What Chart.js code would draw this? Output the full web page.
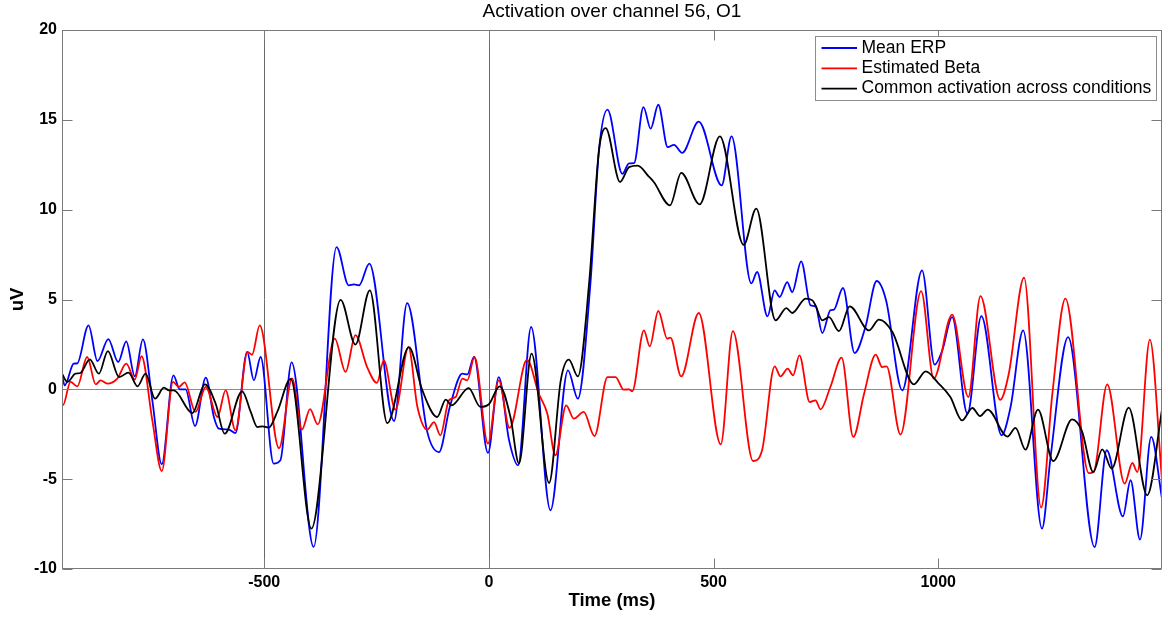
<!DOCTYPE html>
<html><head><meta charset="utf-8">
<script src="https://cdn.jsdelivr.net/npm/chart.js@4.4.1/dist/chart.umd.min.js"></script>
<style>html,body{margin:0;padding:0;background:#fff;}canvas{display:block;}</style>
</head><body>
<canvas id="c" width="1168" height="617"></canvas>
<script>
const chartTitle = 'Activation over channel 56, O1';
const xAxisTitle = 'Time (ms)';
const yAxisTitle = 'uV';
const xTickValues = [-500, 0, 500, 1000];
const yTickValues = [-10, -5, 0, 5, 10, 15, 20];
const markerTimes = [-500, 0];
const seriesLabels = ['Mean ERP', 'Estimated Beta', 'Common activation across conditions'];

const erpTimes = [-950,-944,-924,-916,-891,-871,-847,-825,-807,-788,-770,-749,-728,-702,-688,-675,-654,-630,-612,-601,-579,-564,-538,-523,-508,-479,-464,-439,-390,-339,-312,-300,-289,-266,-211,-182,-137,-111,-87,-59,-48,-33,-2,22,45,65,94,137,176,198,226,245,264,297,312,323,344,360,377,398,412,430,467,518,540,584,597,620,636,647,664,675,695,716,727,742,760,768,788,814,838,863,884,920,964,992,1009,1031,1065,1096,1141,1161,1189,1231,1250,1289,1348,1375,1411,1428,1449,1474,1498];
const erpValues = [0.78,0.22,1.43,1.45,3.56,1.57,2.80,1.52,2.67,0.72,2.78,-0.61,-4.17,0.78,0.00,0.00,-2.04,0.65,-1.54,-2.19,-2.24,-2.43,2.08,0.50,1.80,-4.13,-3.95,1.50,-8.77,7.92,5.79,5.84,5.79,7.00,-1.76,4.80,-2.38,-3.49,-0.99,0.87,0.83,1.80,-3.54,0.68,-2.84,-4.23,3.47,-6.73,1.06,-0.52,5.90,13.30,15.57,12.00,12.58,12.59,15.71,14.51,15.84,13.48,13.61,13.16,14.90,11.35,14.08,5.90,6.53,4.06,5.51,5.14,5.97,5.41,7.12,4.67,4.62,3.13,4.40,4.44,5.64,2.02,3.47,6.03,4.95,-0.06,6.62,1.37,2.17,4.02,-1.35,4.08,-2.56,-0.98,3.28,-7.75,-3.77,2.91,-8.78,-3.39,-7.07,-5.06,-8.36,-2.65,-6.08];

const betaTimes = [-950,-948,-931,-916,-894,-875,-864,-849,-827,-807,-788,-773,-749,-728,-703,-690,-677,-653,-630,-604,-586,-564,-537,-527,-510,-467,-438,-416,-398,-381,-343,-319,-297,-271,-249,-234,-208,-179,-159,-137,-122,-108,-89,-74,-59,-48,-32,-2,22,46,85,111,130,148,172,189,211,235,264,282,300,312,319,345,358,377,397,404,428,467,516,543,588,608,636,649,665,677,691,714,727,738,760,785,811,835,861,875,885,916,962,990,1031,1067,1094,1138,1157,1191,1229,1254,1283,1335,1346,1376,1415,1432,1443,1471,1498];
const betaValues = [-0.80,-0.89,0.41,0.17,1.80,0.28,0.50,0.32,0.60,1.43,0.54,1.84,-1.73,-4.55,0.41,0.13,0.39,-1.26,0.13,-1.54,-0.06,-2.28,2.08,1.93,3.56,-3.28,0.61,-2.24,-1.10,-1.95,2.82,0.97,3.02,1.24,0.36,1.61,-1.13,2.35,-0.98,-2.24,-1.82,-2.56,-0.61,-0.43,0.60,0.50,1.80,-3.02,0.50,-2.15,1.65,-0.24,-1.35,-3.67,-0.89,-1.63,-1.26,-2.60,0.68,0.68,-0.02,0.00,-0.11,3.28,2.39,4.36,2.82,2.88,0.72,4.25,-3.06,3.24,-3.99,-3.39,1.28,0.72,1.15,0.78,1.89,-0.71,-0.61,-1.11,0.13,1.76,-2.65,-0.24,1.93,1.24,1.28,-2.52,5.47,0.60,4.16,-0.43,5.19,-0.58,0.87,6.22,-6.58,-0.24,5.05,-4.66,-4.60,0.28,-5.25,-4.10,-4.60,2.77,-5.06];

const commonTimes = [-950,-938,-920,-909,-888,-868,-848,-823,-802,-782,-764,-743,-723,-712,-701,-660,-632,-608,-588,-549,-530,-515,-504,-490,-471,-441,-395,-330,-297,-265,-226,-178,-148,-115,-96,-83,-45,-19,0,24,48,67,95,134,160,178,198,223,245,260,292,312,331,356,367,403,428,469,514,567,595,638,662,675,705,720,727,742,757,779,803,846,868,898,946,972,1001,1027,1053,1076,1093,1110,1154,1172,1194,1222,1256,1298,1320,1345,1365,1386,1424,1465,1498];
const commonValues = [0.87,0.41,0.87,0.91,1.67,0.87,2.13,0.68,0.93,0.17,0.87,-0.52,0.09,-0.06,-0.06,-1.32,0.28,-0.80,-2.47,-0.11,-1.26,-2.10,-2.06,-2.13,-1.26,0.58,-7.75,4.98,2.49,5.51,-1.88,2.35,-0.06,-1.54,-0.57,-0.89,0.07,-0.98,-0.83,0.17,-1.54,-4.13,1.99,-5.21,0.50,1.65,0.72,5.88,13.30,14.54,11.54,12.37,12.45,11.84,11.54,10.24,12.05,10.30,14.08,8.04,10.06,3.84,4.52,4.25,5.05,4.95,4.67,3.84,4.02,3.24,4.62,3.28,3.88,3.19,0.28,1.00,0.32,-0.43,-1.73,-1.04,-1.49,-1.13,-2.63,-2.15,-3.36,-1.13,-3.99,-1.67,-2.34,-4.60,-3.34,-4.41,-1.02,-5.90,-1.13];

const FONT = "'Liberation Sans', Arial, Helvetica, sans-serif";
Chart.defaults.font.family = FONT;
Chart.defaults.color = '#000';

const toPoints = (t, v) => t.map((x, i) => ({x: x, y: v[i]}));

const frame = {
  id: 'matlabFrame',
  beforeDatasetsDraw(chart) {
    const {ctx, chartArea: a, scales: {x, y}} = chart;
    ctx.save();
    ctx.lineWidth = 1;
    const y0 = Math.round(y.getPixelForValue(0)) + 0.5;
    ctx.strokeStyle = '#8c8c8c';
    ctx.beginPath(); ctx.moveTo(a.left, y0); ctx.lineTo(a.right, y0); ctx.stroke();
    ctx.strokeStyle = '#6a6a6a';
    markerTimes.forEach(t => {
      const px = Math.round(x.getPixelForValue(t)) + 0.5;
      ctx.beginPath(); ctx.moveTo(px, a.top); ctx.lineTo(px, a.bottom); ctx.stroke();
    });
    ctx.restore();
  },
  afterDraw(chart) {
    const {ctx, chartArea: a, scales: {x, y}} = chart;
    ctx.save();
    ctx.lineWidth = 1;
    ctx.strokeStyle = '#7a7a7a';
    const L = Math.round(a.left) + 0.5, R = Math.round(a.right) - 0.5;
    const T = Math.round(a.top) + 0.5, B = Math.round(a.bottom) - 0.5;
    ctx.strokeRect(L, T, R - L, B - T);
    const tick = 10;
    ctx.beginPath();
    xTickValues.forEach(v => {
      const px = Math.round(x.getPixelForValue(v)) + 0.5;
      ctx.moveTo(px, B); ctx.lineTo(px, B - tick);
      ctx.moveTo(px, T); ctx.lineTo(px, T + tick);
    });
    yTickValues.forEach(v => {
      const py = Math.round(y.getPixelForValue(v)) + 0.5;
      ctx.moveTo(L, py); ctx.lineTo(L + tick, py);
      ctx.moveTo(R, py); ctx.lineTo(R - tick, py);
    });
    ctx.stroke();

    // legend box
    const ds = chart.data.datasets;
    ctx.font = '17.5px ' + FONT;
    const rowH = 20.3, lineLen = 35.5, padL = 6.5, gap = 4.5, padR = 5;
    const textW = Math.max(...ds.map(d => ctx.measureText(d.label).width));
    const w = Math.round(padL + lineLen + gap + textW + padR);
    const h = 64;
    const right = Math.round(a.right) - 6, top = Math.round(a.top) + 6;
    const left = right - w;
    ctx.fillStyle = '#fff';
    ctx.fillRect(left, top, w, h);
    ctx.strokeStyle = '#8c8c8c';
    ctx.strokeRect(left + 0.5, top + 0.5, w, h);
    ds.forEach((d, i) => {
      const cy = top + 12 + i * rowH;
      ctx.strokeStyle = d.borderColor;
      ctx.lineWidth = 1.8;
      ctx.beginPath(); ctx.moveTo(left + padL, cy); ctx.lineTo(left + padL + lineLen, cy); ctx.stroke();
      ctx.fillStyle = '#000';
      ctx.textBaseline = 'middle';
      ctx.textAlign = 'left';
      ctx.fillText(d.label, left + padL + lineLen + gap, cy);
    });
    ctx.restore();
  }
};

new Chart(document.getElementById('c'), {
  type: 'line',
  data: {
    datasets: [
      {label: seriesLabels[0], data: toPoints(erpTimes, erpValues), borderColor: '#0000ff', order: 3},
      {label: seriesLabels[1], data: toPoints(betaTimes, betaValues), borderColor: '#ff0000', order: 2},
      {label: seriesLabels[2], data: toPoints(commonTimes, commonValues), borderColor: '#000000', order: 1}
    ]
  },
  options: {
    responsive: false,
    animation: false,
    events: [],
    datasets: {line: {borderWidth: 1.8, pointRadius: 0, fill: false, cubicInterpolationMode: 'monotone'}},
    layout: {padding: {left: 0, right: 6, top: 0, bottom: 0}},
    plugins: {
      legend: {display: false},
      tooltip: {enabled: false},
      title: {display: true, text: chartTitle, fullSize: false, color: '#000',
        font: {size: 19, weight: 'normal', lineHeight: 1}, padding: {top: 2.5, bottom: 8.5}}
    },
    scales: {
      x: {
        type: 'linear', min: -950, max: 1498,
        afterBuildTicks: s => { s.ticks = xTickValues.map(v => ({value: v})); },
        afterFit: s => { s.height = 48; },
        grid: {display: false, drawTicks: false},
        border: {display: false},
        ticks: {color: '#000', font: {size: 16, weight: 'bold'}, padding: 4, maxRotation: 0, autoSkip: false,
          callback: v => String(v)},
        title: {display: true, text: xAxisTitle, color: '#000', font: {size: 18.5, weight: 'bold'}, padding: {top: 0, bottom: 5}}
      },
      y: {
        type: 'linear', min: -10, max: 20,
        afterBuildTicks: s => { s.ticks = yTickValues.map(v => ({value: v})); },
        afterFit: s => { s.width = 62; },
        grid: {display: false, drawTicks: false},
        border: {display: false},
        ticks: {color: '#000', font: {size: 16, weight: 'bold'}, padding: 5, autoSkip: false,
          callback: v => String(v)},
        title: {display: true, text: yAxisTitle, color: '#000', font: {size: 18.5, weight: 'bold'}, padding: {top: 7, bottom: 0}}
      }
    }
  },
  plugins: [frame]
});
</script>
</body></html>
